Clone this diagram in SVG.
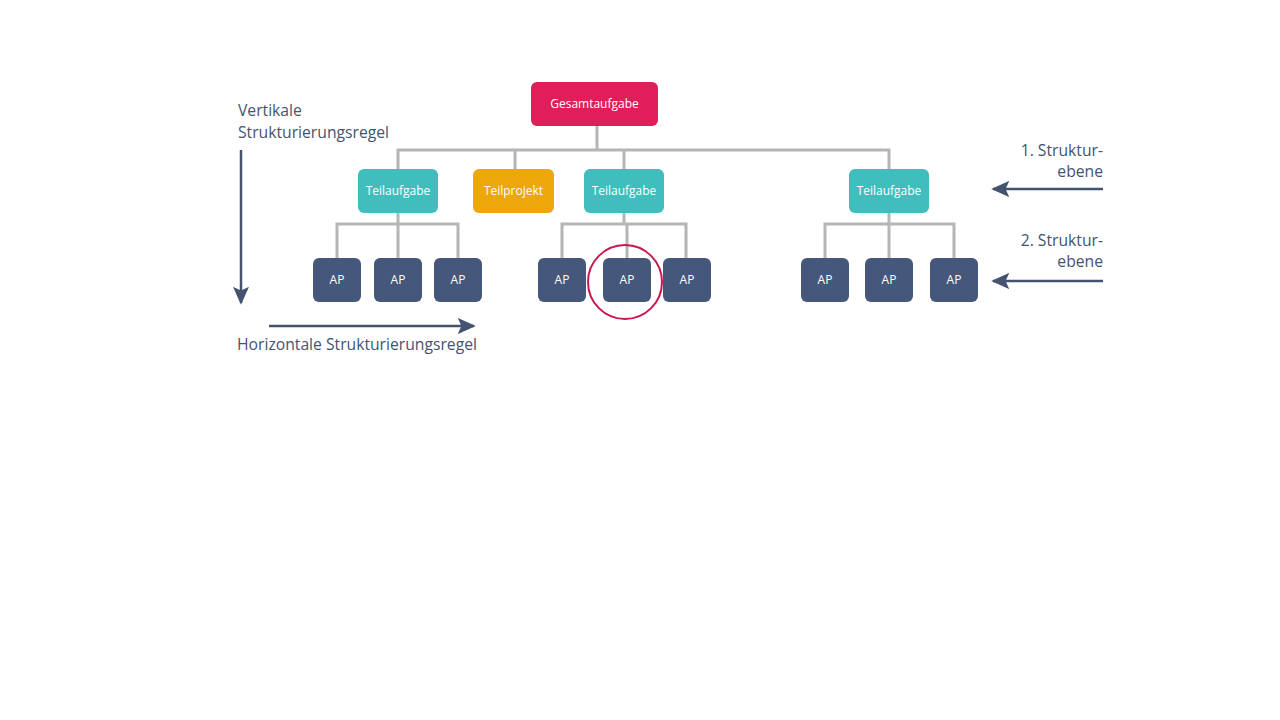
<svg xmlns="http://www.w3.org/2000/svg" width="1280" height="720" viewBox="0 0 1280 720">
<style>
.n text{font-family:"Open Sans","Liberation Sans",sans-serif;font-size:12px;fill:#fff;text-anchor:middle}
.lbl{font-family:"Open Sans","Liberation Sans",sans-serif;font-size:15.7px;fill:#44536f}
.c{stroke:#b5b5b5;stroke-width:3;fill:none}
.ar{stroke:#44536f;stroke-width:2.5;fill:none}
.ap{fill:#45577a}
.ta{fill:#41bdbd}
</style>
<defs><marker id="ah" viewBox="0 0 10 10" refX="9" refY="5" markerWidth="18" markerHeight="16" orient="auto" markerUnits="userSpaceOnUse" preserveAspectRatio="none"><path d="M0,0L10,5L0,10L2,5z" fill="#44536f"/></marker></defs>
<rect width="1280" height="720" fill="#fff"/>
<g id="connectors" class="c">
<path d="M597,126V150M398,169V150H889V169M515,150V169M624,150V169"/>
<path d="M398,213V224M337,258V224H458V258M398,224V258"/>
<path d="M624,213V224M562,258V224H686V258M627,224V258"/>
<path d="M889,213V224M825,258V224H954V258M889,224V258"/>
</g>
<g id="n0" class="n"><rect x="531" y="82" width="127" height="44" rx="6" fill="#e01e5a"/><text x="594.5" y="108">Gesamtaufgabe</text></g>
<g id="n1" class="n"><rect class="ta" x="358" y="169" width="80" height="44" rx="6"/><text x="398" y="195">Teilaufgabe</text></g>
<g id="n2" class="n"><rect x="473" y="169" width="81" height="44" rx="6" fill="#eca70b"/><text x="513.5" y="195">Teilprojekt</text></g>
<g id="n3" class="n"><rect class="ta" x="584" y="169" width="80" height="44" rx="6"/><text x="624" y="195">Teilaufgabe</text></g>
<g id="n4" class="n"><rect class="ta" x="849" y="169" width="80" height="44" rx="6"/><text x="889" y="195">Teilaufgabe</text></g>
<g id="ap1" class="n"><rect class="ap" x="313" y="258" width="48" height="44" rx="6"/><text x="337" y="284">AP</text></g>
<g id="ap2" class="n"><rect class="ap" x="374" y="258" width="48" height="44" rx="6"/><text x="398" y="284">AP</text></g>
<g id="ap3" class="n"><rect class="ap" x="434" y="258" width="48" height="44" rx="6"/><text x="458" y="284">AP</text></g>
<g id="ap4" class="n"><rect class="ap" x="538" y="258" width="48" height="44" rx="6"/><text x="562" y="284">AP</text></g>
<g id="ap5" class="n"><rect class="ap" x="603" y="258" width="48" height="44" rx="6"/><text x="627" y="284">AP</text></g>
<g id="ap6" class="n"><rect class="ap" x="663" y="258" width="48" height="44" rx="6"/><text x="687" y="284">AP</text></g>
<g id="ap7" class="n"><rect class="ap" x="801" y="258" width="48" height="44" rx="6"/><text x="825" y="284">AP</text></g>
<g id="ap8" class="n"><rect class="ap" x="865" y="258" width="48" height="44" rx="6"/><text x="889" y="284">AP</text></g>
<g id="ap9" class="n"><rect class="ap" x="930" y="258" width="48" height="44" rx="6"/><text x="954" y="284">AP</text></g>
<circle cx="625" cy="282" r="37" fill="none" stroke="#c8184f" stroke-width="2"/>
<g id="arrows">
<path d="M241,150V303" class="ar" marker-end="url(#ah)"/>
<path d="M269,326H474" class="ar" marker-end="url(#ah)"/>
<path d="M1103,189H993" class="ar" marker-end="url(#ah)"/>
<path d="M1103,281H993" class="ar" marker-end="url(#ah)"/>
</g>
<text class="lbl" x="238" y="116">Vertikale</text>
<text class="lbl" x="238" y="138">Strukturierungsregel</text>
<text class="lbl" x="237" y="350">Horizontale Strukturierungsregel</text>
<text class="lbl" x="1103" y="156" text-anchor="end">1. Struktur-</text>
<text class="lbl" x="1103" y="177" text-anchor="end">ebene</text>
<text class="lbl" x="1103" y="246" text-anchor="end">2. Struktur-</text>
<text class="lbl" x="1103" y="267" text-anchor="end">ebene</text>
</svg>
